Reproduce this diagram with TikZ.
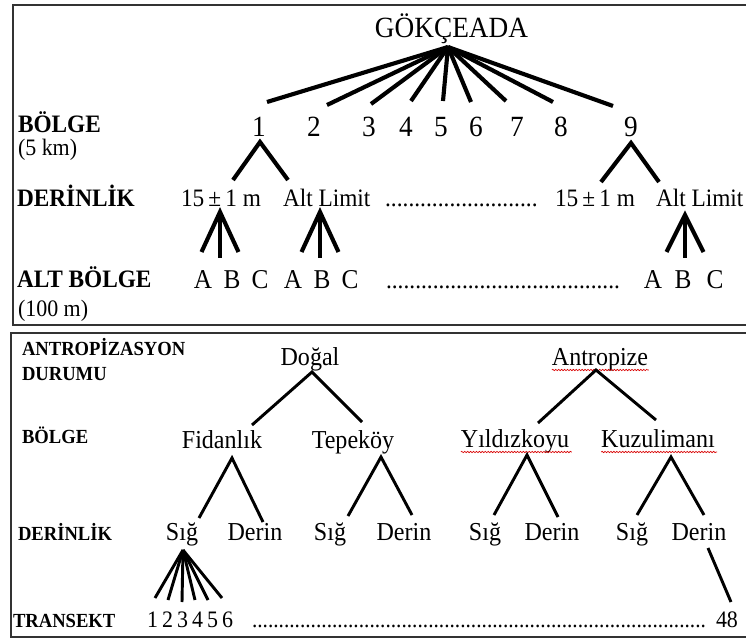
\documentclass[tikz,border=0pt]{standalone}
\usepackage{fontspec}
\setmainfont{Liberation Serif}[FakeStretch=0.93]
\usetikzlibrary{decorations.pathmorphing}
\begin{document}
\begin{tikzpicture}[x=0.75pt,y=-0.75pt,
  every node/.style={inner sep=0pt,outer sep=0pt},
  tlab/.style={anchor=base west,font=\bfseries\fontsize{18.8}{21}\selectfont},
  tsub/.style={anchor=base west,font=\fontsize{17.7}{20}\selectfont},
  blab/.style={anchor=base west,font=\bfseries\fontsize{15}{17}\selectfont},
  bigtxt/.style={anchor=base,font=\fontsize{22}{25}\selectfont},
  midtxt/.style={anchor=base west,font=\fontsize{18.8}{21}\selectfont},
  abctxt/.style={anchor=base,font=\fontsize{20.4}{23}\selectfont},
  btxt/.style={anchor=base,font=\fontsize{19.4}{22}\selectfont},
  trtxt/.style={anchor=base,font=\fontsize{17.7}{20}\selectfont},
  thick1/.style={line width=3.1pt},
  thick2/.style={line width=2.2pt},
  frame/.style={draw=black!80,line width=1.1pt},
  spell/.style={draw=red!85!black,line width=0.5pt,decorate,
    decoration={snake,amplitude=0.5pt,segment length=2.2pt}}
]
\useasboundingbox (0,0) rectangle (746,639);
% frames
\draw[frame] (746,5) -- (13,5) -- (13,325) -- (746,325);
\draw[frame] (746,333) -- (11,333) -- (11,637) -- (746,637);

% ---------- top panel ----------
\node[bigtxt] (gok) at (451.5,37) {GÖKÇEADA};
\node[tlab] (lbolge) at (18,132) {BÖLGE};
\node[tsub] (l5km) at (18,155) {(5 km)};
\node[tlab] (lderin) at (17,206) {DERİNLİK};
\node[tlab] (laltb) at (17,287) {ALT BÖLGE};
\node[tsub] (l100) at (18,316) {(100 m)};

\foreach \n/\x in {1/259,2/314,3/369,4/406,5/441,6/476,7/517,8/561,9/631}
  \node[bigtxt] (b\n) at (\x,136) {\n};

\coordinate (gapex) at (448,47);
\foreach \n/\x/\y in {1/267/102,2/327/105,3/371/104,4/411/101,5/443/101,6/471/102,7/506/101,8/553/102,9/613/106}
  \coordinate (ge\n) at (\x,\y);
\foreach \n in {1,...,9}
  \draw[thick1] (gapex) -- (ge\n);

% depth row
\node[midtxt] (d1a) at (181,206) {15\,±\,1 m};
\node[midtxt] (d1b) at (283,206) {Alt Limit};
\node[midtxt] (ddots) at (385,206) {\hbox to 114.5pt{\xleaders\hbox{.}\hfill}};
\node[midtxt] (d9a) at (555,206) {15\,±\,1 m};
\node[midtxt] (d9b) at (656,206) {Alt Limit};

\coordinate (f1) at (260,142);
\coordinate (f1l) at (233,180);
\coordinate (f1r) at (288,180);
\draw[thick1] (f1l) -- (f1) -- (f1r);
\coordinate (f9) at (631,143);
\coordinate (f9l) at (601,182);
\coordinate (f9r) at (659,182);
\draw[thick1] (f9l) -- (f9) -- (f9r);

% sub-zone forks
\foreach \k/\x/\y in {a/220/212,b/320/212,c/685/215}{
  \coordinate (s\k) at (\x,\y);
  \coordinate (s\k1) at (\x-18.5,252);
  \coordinate (s\k2) at (\x,258);
  \coordinate (s\k3) at (\x+18.5,252);
  \draw[thick1] (s\k1) -- (s\k) -- (s\k3);
  \draw[thick1] (s\k) -- (s\k2);
}

% A B C row
\foreach \n/\t/\x in {1/A/203,2/B/232,3/C/260,4/A/293,5/B/322,6/C/350,7/A/653,8/B/683,9/C/715}
  \node[abctxt] (abc\n) at (\x,288) {\t};
\node[midtxt] (adots) at (386,288) {\hbox to 175.5pt{\xleaders\hbox{.}\hfill}};

% ---------- bottom panel ----------
\node[blab] (lant) at (22,355) {ANTROPİZASYON};
\node[blab] (ldur) at (22,380) {DURUMU};
\node[blab] (lbol2) at (22,443) {BÖLGE};
\node[blab] (lder2) at (18,540) {DERİNLİK};
\node[blab] (ltr) at (13,627) {TRANSEKT};

\node[btxt] (dogal) at (310,365) {Doğal};
\node[btxt] (antro) at (600,365) {Antropize};
\node[btxt] (fidan) at (222,448) {Fidanlık};
\node[btxt] (tepe) at (353,448) {Tepeköy};
\node[btxt] (yildiz) at (515,447) {Yıldızkoyu};
\node[btxt] (kuzu) at (658,447) {Kuzulimanı};

\draw[spell] (antro.base west) ++(0,5) -- ++(97,0);
\draw[spell] (yildiz.base west) ++(0,5) -- ++(111,0);
\draw[spell] (kuzu.base west) ++(0,5) -- ++(116,0);

\coordinate (dA) at (312,372);
\coordinate (dAl) at (252,425);
\coordinate (dAr) at (362,422);
\draw[thick2] (dAl) -- (dA) -- (dAr);
\coordinate (aA) at (596,370);
\coordinate (aAl) at (538,423);
\coordinate (aAr) at (656,420);
\draw[thick2] (aAl) -- (aA) -- (aAr);

\foreach \k/\x/\y/\lx/\ly/\rx/\ry in {fi/232/458/199/518/263/522, te/381/457/348/516/412/515, yi/527/455/494/515/558/517, ku/671/457/637/515/704/515}{
  \coordinate (\k) at (\x,\y);
  \coordinate (\k l) at (\lx,\ly);
  \coordinate (\k r) at (\rx,\ry);
  \draw[thick2] (\k l) -- (\k) -- (\k r);
}

\foreach \n/\t/\x in {1/Sığ/182,2/Derin/255,3/Sığ/330,4/Derin/404,5/Sığ/485,6/Derin/552,7/Sığ/632,8/Derin/699}
  \node[btxt] (dp\n) at (\x,540) {\t};

% transect fork
\coordinate (tA) at (183,550);
\foreach \n/\x/\y in {1/155/598,2/168/600,3/182/602,4/195/600,5/208/600,6/222/598}{
  \coordinate (te\n) at (\x,\y);
  \draw[thick2] (tA) -- (te\n);
}
\foreach \n/\x in {1/152.5,2/167.5,3/182.5,4/197.5,5/212.5,6/227.5}
  \node[trtxt] (tr\n) at (\x,627) {\n};
\node[anchor=base west,font=\fontsize{17.2}{20}\selectfont] (tdots) at (252,627) {\hbox to 340.5pt{\xleaders\hbox{.}\hfill}};
\node[anchor=base west,font=\fontsize{17.7}{20}\selectfont] (t48) at (716,627) {48};
\coordinate (c48a) at (708,548);
\coordinate (c48b) at (731,602);
\draw[thick2] (c48a) -- (c48b);
\end{tikzpicture}
\end{document}
